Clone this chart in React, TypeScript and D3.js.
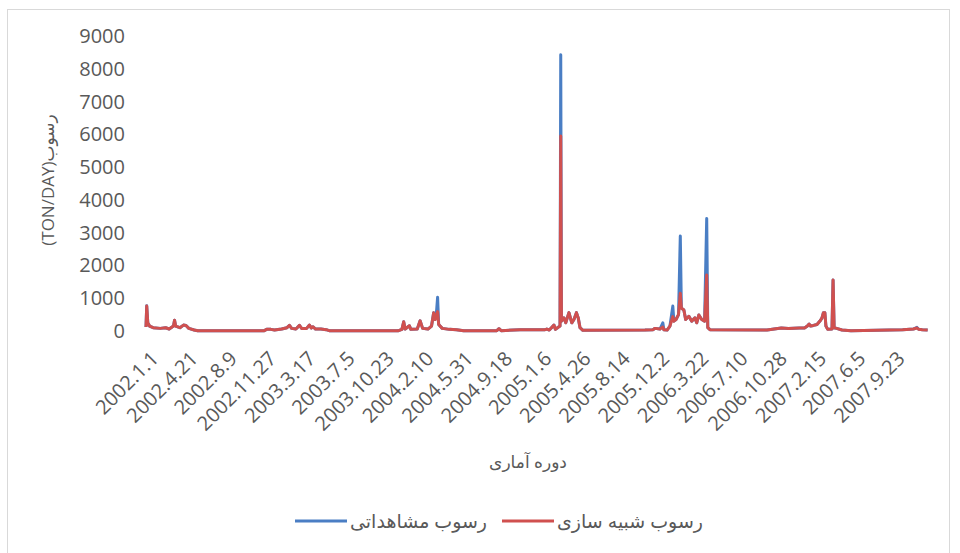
import React, { useRef, useEffect } from 'react';
import * as d3 from 'd3';

// daily sediment load (TON/DAY) at its turning points
const dates = [
  '2002.1.1', '2002.1.3', '2002.1.6', '2002.1.11', '2002.1.21', '2002.2.10', '2002.2.25', '2002.3.7',
  '2002.3.19', '2002.3.22', '2002.3.25', '2002.4.6', '2002.4.16', '2002.4.23', '2002.5.1', '2002.5.16',
  '2002.5.26', '2002.11.27', '2002.12.5', '2002.12.17', '2002.12.27', '2003.1.16', '2003.1.31', '2003.2.7',
  '2003.2.13', '2003.2.25', '2003.3.7', '2003.3.13', '2003.3.27', '2003.4.4', '2003.4.9', '2003.4.14',
  '2003.4.21', '2003.5.6', '2003.5.21', '2003.5.31', '2003.12.8', '2003.12.19', '2003.12.24', '2003.12.28',
  '2004.1.9', '2004.1.13', '2004.1.31', '2004.2.8', '2004.2.15', '2004.3.1', '2004.3.11', '2004.3.17',
  '2004.3.21', '2004.3.24', '2004.3.28', '2004.3.31', '2004.4.10', '2004.4.30', '2004.5.20', '2004.6.9',
  '2004.9.10', '2004.9.16', '2004.9.22', '2004.11.14', '2005.1.23', '2005.1.28', '2005.2.4', '2005.2.17',
  '2005.2.21', '2005.2.27', '2005.3.6', '2005.3.8', '2005.3.10', '2005.3.17', '2005.3.22', '2005.3.31',
  '2005.4.8', '2005.4.14', '2005.4.21', '2005.4.26', '2005.5.1', '2005.5.9', '2005.10.30', '2005.11.21',
  '2005.11.27', '2005.12.11', '2005.12.19', '2005.12.22', '2005.12.31', '2006.1.8', '2006.1.16', '2006.1.19',
  '2006.1.25', '2006.2.1', '2006.2.6', '2006.2.9', '2006.2.16', '2006.2.21', '2006.3.2', '2006.3.10',
  '2006.3.19', '2006.3.24', '2006.3.30', '2006.4.7', '2006.4.15', '2006.4.21', '2006.4.24', '2006.4.30',
  '2006.10.7', '2006.10.27', '2006.11.16', '2006.12.6', '2007.1.5', '2007.1.20', '2007.1.28', '2007.2.2',
  '2007.2.6', '2007.2.14', '2007.2.24', '2007.3.6', '2007.3.10', '2007.3.14', '2007.3.18', '2007.3.21',
  '2007.3.26', '2007.4.7', '2007.4.10', '2007.4.13', '2007.4.20', '2007.5.5', '2007.5.30', '2007.10.22',
  '2007.11.21', '2007.12.1', '2007.12.6', '2007.12.16', '2007.12.31',
];

const observed = [
  120, 770, 250, 150, 100, 80, 100, 60,
  150, 330, 150, 100, 180, 170, 80, 30,
  5, 5, 50, 50, 30, 60, 100, 170,
  80, 60, 170, 80, 80, 180, 90, 130,
  60, 60, 40, 5, 5, 50, 280, 60,
  160, 50, 60, 310, 80, 60, 150, 560,
  350, 450, 1030, 200, 80, 50, 40, 10,
  10, 70, 10, 40, 40, 60, 30, 180,
  50, 100, 150, 8430, 300, 400, 250, 560,
  250, 350, 560, 400, 100, 20, 30, 40,
  80, 60, 250, 40, 30, 150, 760, 300,
  350, 500, 2900, 700, 640, 350, 450, 300,
  400, 250, 490, 350, 300, 3435, 100, 40,
  30, 60, 90, 80, 90, 90, 150, 210,
  150, 170, 200, 330, 400, 560, 560, 150,
  50, 60, 1555, 100, 80, 30, 10, 40,
  60, 110, 50, 40, 30,
];

const simulated = [
  120, 760, 250, 150, 100, 80, 100, 60,
  150, 330, 150, 100, 180, 170, 80, 30,
  5, 5, 50, 50, 30, 60, 100, 170,
  80, 60, 170, 80, 80, 180, 90, 130,
  60, 60, 40, 5, 5, 50, 280, 60,
  160, 50, 60, 310, 80, 60, 150, 560,
  350, 450, 590, 200, 80, 50, 40, 10,
  10, 70, 10, 40, 40, 60, 30, 180,
  50, 100, 150, 5950, 300, 400, 250, 560,
  250, 350, 560, 400, 100, 20, 30, 40,
  80, 60, 120, 40, 30, 150, 440, 300,
  350, 500, 1150, 700, 640, 350, 450, 300,
  400, 250, 490, 350, 300, 1710, 100, 40,
  30, 60, 90, 80, 90, 90, 150, 210,
  150, 170, 200, 330, 400, 560, 560, 150,
  50, 60, 1555, 100, 80, 30, 10, 40,
  60, 90, 50, 40, 30,
];

const xTickLabels = [
  '2002.1.1', '2002.4.21', '2002.8.9', '2002.11.27', '2003.3.17', '2003.7.5', '2003.10.23',
  '2004.2.10', '2004.5.31', '2004.9.18', '2005.1.6', '2005.4.26', '2005.8.14', '2005.12.2',
  '2006.3.22', '2006.7.10', '2006.10.28', '2007.2.15', '2007.6.5', '2007.9.23',
];

const yTicks = [0, 1000, 2000, 3000, 4000, 5000, 6000, 7000, 8000, 9000];

const seriesNames = ['رسوب مشاهداتی', 'رسوب شبیه سازی'];
const seriesColors = ['#4a7ec4', '#d0504f'];

const App = () => {
  const svgRef = useRef(null);

  useEffect(() => {
    const svg = d3.select(svgRef.current);
    svg.selectAll('*').remove();

    const textColor = '#595959';
    const font = "'Open Sans', 'DejaVu Sans', sans-serif";
    const parse = d3.timeParse('%Y.%m.%d');

    const x = d3.scaleTime()
      .domain([parse('2002.1.1'), parse('2008.1.1')])
      .range([146, 928]);

    const y = d3.scaleLinear()
      .domain([0, 9000])
      .range([331, 36]);

    svg.append('rect')
      .attr('x', 7.5).attr('y', 9.5)
      .attr('width', 942).attr('height', 600)
      .attr('fill', 'white')
      .attr('stroke', '#d9d9d9');

    // y axis labels
    svg.append('g')
      .selectAll('text')
      .data(yTicks)
      .enter()
      .append('text')
      .attr('x', 125)
      .attr('y', d => y(d))
      .attr('dy', '0.35em')
      .attr('text-anchor', 'end')
      .style('font-family', font)
      .style('font-size', '20px')
      .style('fill', textColor)
      .text(d => d);

    // x axis labels, rotated
    svg.append('g')
      .selectAll('text')
      .data(xTickLabels)
      .enter()
      .append('text')
      .attr('transform', d => `translate(${x(parse(d)) + 4},${350}) rotate(-45)`)
      .attr('text-anchor', 'end')
      .attr('dy', '0.7em')
      .style('font-family', font)
      .style('font-size', '20px')
      .style('fill', textColor)
      .text(d => d);

    const pts = dates.map((d, i) => ({ date: parse(d), obs: observed[i], sim: simulated[i] }));

    const lineObs = d3.line()
      .x(d => x(d.date))
      .y(d => y(d.obs));
    const lineSim = d3.line()
      .x(d => x(d.date))
      .y(d => y(d.sim));

    svg.append('path')
      .attr('d', lineObs(pts))
      .attr('fill', 'none')
      .attr('stroke', seriesColors[0])
      .attr('stroke-width', 3)
      .attr('stroke-linejoin', 'round');

    svg.append('path')
      .attr('d', lineSim(pts))
      .attr('fill', 'none')
      .attr('stroke', seriesColors[1])
      .attr('stroke-width', 3)
      .attr('stroke-linejoin', 'round');

    // axis titles
    svg.append('text')
      .attr('transform', `translate(54,${180}) rotate(-90)`)
      .attr('text-anchor', 'middle')
      .style('font-family', font)
      .style('font-size', '17px')
      .style('fill', textColor)
      .text('(TON/DAY)رسوب');

    svg.append('text')
      .attr('x', 528)
      .attr('y', 462)
      .attr('dy', '0.35em')
      .attr('text-anchor', 'middle')
      .style('font-family', font)
      .style('font-size', '17px')
      .style('fill', textColor)
      .text('دوره آماری');

    // legend
    const legendX = [295, 502];
    const legend = svg.append('g');
    seriesNames.forEach((name, i) => {
      legend.append('line')
        .attr('x1', legendX[i]).attr('x2', legendX[i] + 52)
        .attr('y1', 521).attr('y2', 521)
        .attr('stroke', seriesColors[i])
        .attr('stroke-width', 3);
      legend.append('text')
        .attr('x', legendX[i] + 55)
        .attr('y', 521)
        .attr('dy', '0.35em')
        .style('font-family', font)
        .style('font-size', '19px')
        .style('fill', textColor)
        .text(name);
    });
  }, []);

  return (
    <svg
      ref={svgRef}
      width={960}
      height={553}
      viewBox="0 0 960 553"
      style={{ position: 'absolute', left: 0, top: 0, background: 'white' }}
    ></svg>
  );
};

export default App;
